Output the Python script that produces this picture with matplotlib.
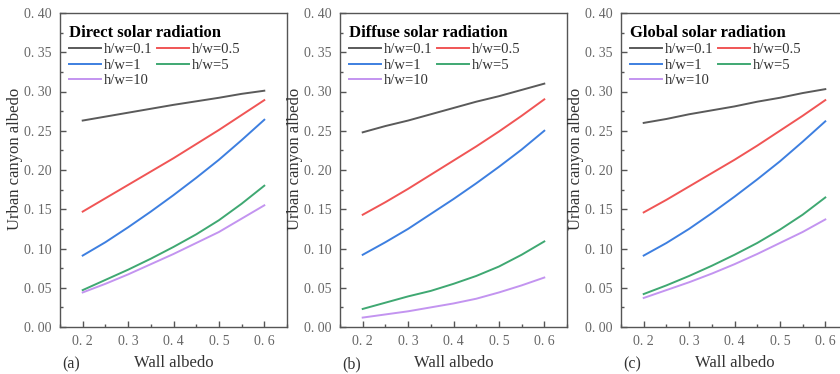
import matplotlib
matplotlib.use("Agg")
import matplotlib.pyplot as plt
from matplotlib.ticker import MultipleLocator

plt.rcParams['font.family'] = ['Liberation Serif', 'DejaVu Serif']

wall_albedo = [0.2, 0.25, 0.3, 0.35, 0.4, 0.45, 0.5, 0.55, 0.6]
labels = ["h/w=0.1", "h/w=0.5", "h/w=1", "h/w=5", "h/w=10"]
colors = ["#5a5a5a", "#f05555", "#3d7fe0", "#3fa872", "#c394f0"]

# (a) direct
direct = [
    [0.263, 0.268, 0.273, 0.278, 0.283, 0.2875, 0.292, 0.297, 0.301],
    [0.147, 0.164, 0.181, 0.198, 0.215, 0.233, 0.251, 0.270, 0.289],
    [0.091, 0.108, 0.127, 0.147, 0.168, 0.190, 0.213, 0.238, 0.264],
    [0.047, 0.060, 0.073, 0.087, 0.102, 0.118, 0.136, 0.157, 0.180],
    [0.044, 0.055, 0.067, 0.080, 0.093, 0.107, 0.121, 0.138, 0.155],
]
# (b) diffuse
diffuse = [
    [0.248, 0.256, 0.263, 0.271, 0.279, 0.287, 0.294, 0.302, 0.310],
    [0.143, 0.159, 0.176, 0.194, 0.212, 0.230, 0.249, 0.269, 0.290],
    [0.092, 0.108, 0.125, 0.144, 0.163, 0.183, 0.204, 0.226, 0.250],
    [0.023, 0.031, 0.039, 0.046, 0.055, 0.065, 0.077, 0.092, 0.109],
    [0.012, 0.016, 0.020, 0.025, 0.030, 0.036, 0.044, 0.053, 0.063],
]
# (c) global
global_ = [
    [0.260, 0.265, 0.271, 0.276, 0.281, 0.287, 0.292, 0.298, 0.303],
    [0.146, 0.162, 0.179, 0.196, 0.213, 0.231, 0.250, 0.269, 0.289],
    [0.091, 0.107, 0.125, 0.145, 0.166, 0.188, 0.211, 0.236, 0.262],
    [0.042, 0.053, 0.065, 0.078, 0.092, 0.107, 0.124, 0.143, 0.165],
    [0.037, 0.047, 0.057, 0.068, 0.080, 0.093, 0.107, 0.121, 0.137],
]

titles = ["Direct solar radiation", "Diffuse solar radiation", "Global solar radiation"]
panel_tags = ["(a)", "(b)", "(c)"]
xticks = [0.2, 0.3, 0.4, 0.5, 0.6]
xticklabels = ["0. 2", "0. 3", "0. 4", "0. 5", "0. 6"]
yticks = [0.0, 0.05, 0.10, 0.15, 0.20, 0.25, 0.30, 0.35, 0.40]
yticklabels = ["0. 00", "0. 05", "0. 10", "0. 15", "0. 20", "0. 25", "0. 30", "0. 35", "0. 40"]

fig = plt.figure(figsize=(8.4, 3.74), dpi=100)
lefts = [60 / 840, 340 / 840, 621 / 840]
frame = "#555555"

for i, data in enumerate([direct, diffuse, global_]):
    ax = fig.add_axes([lefts[i], 1 - 327 / 374, 227 / 840, 314 / 374])
    lines = []
    for j in range(5):
        ln, = ax.plot(wall_albedo, data[j], color=colors[j], lw=1.4, label=labels[j])
        lines.append(ln)
    ax.set_xlim(0.15, 0.65)
    ax.set_ylim(0, 0.40)
    ax.set_xticks(xticks)
    ax.set_xticklabels(xticklabels)
    ax.set_yticks(yticks)
    ax.set_yticklabels(yticklabels)
    ax.xaxis.set_minor_locator(MultipleLocator(0.05))
    ax.yaxis.set_minor_locator(MultipleLocator(0.025))
    ax.tick_params(which='both', direction='in', color=frame, labelcolor='#666666',
                   labelsize=10, top=False, right=False)
    ax.tick_params(which='major', length=4, width=1, pad=6)
    ax.tick_params(which='minor', length=2.5, width=1)
    for s in ax.spines.values():
        s.set_color(frame)
        s.set_linewidth(1)
    ax.set_ylabel("Urban canyon albedo", fontsize=12, color='#333333')
    ax.yaxis.set_label_coords(-0.165, 0.535)
    ax.set_xlabel("Wall albedo", fontsize=12, color='#333333', labelpad=5)
    # row-wise legend order: 0.1 0.5 / 1 5 / 10
    order = [0, 2, 4, 1, 3]
    leg = ax.legend([lines[k] for k in order], [labels[k] for k in order],
                    loc='upper left', bbox_to_anchor=(0.0, 0.99), ncol=2, frameon=False,
                    fontsize=10.5, handlelength=2.2, handletextpad=0.2, columnspacing=0.3,
                    labelspacing=0.15, borderaxespad=0.2, title=titles[i],
                    title_fontproperties={'weight': 'bold', 'size': 12}, alignment='left')
    for t in leg.get_texts():
        t.set_color('#333333')
    ax.text(0.01, -0.095, panel_tags[i], transform=ax.transAxes, fontsize=11.5,
            color='#333333', ha='left', va='top')

fig.savefig("out.png", dpi=100)
